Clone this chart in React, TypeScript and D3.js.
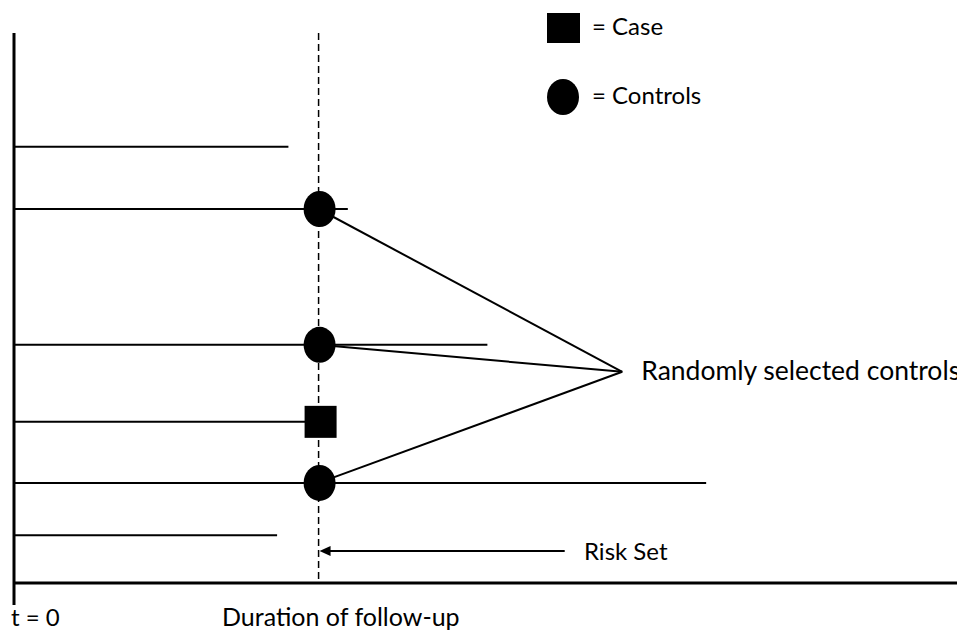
import React from 'react';
import * as d3 from 'd3';

// follow-up time units on x, subject row positions on y
const subjectRows = [7.93, 6.8, 4.33, 2.93, 1.82, 0.87];
const subjectEnds = [2.91, 3.54, 5.02, 3.23, 7.34, 2.79];
const subjectKinds = ['none', 'control', 'control', 'case', 'control', 'none'];
const eventTime = 3.23;
const labelPoint = { t: 6.45, row: 3.84 };
const riskArrow = { from: 5.84, to: 3.24, row: 0.58 };

const WIDTH = 957;
const HEIGHT = 630;
const FONT = 'Lato, "Open Sans", sans-serif';

const App: React.FC = () => {
  const x = d3.scaleLinear().domain([0, 10]).range([14, 957]);
  const y = d3.scaleLinear().domain([0, 10]).range([583, 33]);

  const axisTop = y(10);
  const axisBottom = y(0);
  const lx = x(labelPoint.t);
  const ly = y(labelPoint.row);

  const ax1 = x(riskArrow.from);
  const ax2 = x(riskArrow.to);
  const ay = y(riskArrow.row);

  return (
    <svg
      width={WIDTH}
      height={HEIGHT}
      style={{ position: 'absolute', left: 0, top: 0, background: '#fff' }}
    >
      {/* legend */}
      <rect x={547} y={13} width={33} height={30} fill="#000" />
      <text x={592} y={35} fontFamily={FONT} fontSize={24}>= Case</text>
      <ellipse cx={563} cy={97} rx={16} ry={18} fill="#000" />
      <text x={592} y={104} fontFamily={FONT} fontSize={24}>= Controls</text>

      {/* axes */}
      <line x1={x(0)} x2={x(0)} y1={axisTop} y2={axisBottom + 22} stroke="#000" strokeWidth={3} />
      <line x1={x(0)} x2={x(10)} y1={axisBottom} y2={axisBottom} stroke="#000" strokeWidth={3} />

      {/* event time */}
      <line
        x1={x(eventTime)}
        x2={x(eventTime)}
        y1={axisTop}
        y2={axisBottom}
        stroke="#000"
        strokeWidth={1.5}
        strokeDasharray="7,4"
      />

      {/* subject follow-up lines */}
      {subjectRows.map((r, i) => (
        <line
          key={'s' + i}
          x1={x(0)}
          x2={x(subjectEnds[i])}
          y1={y(r)}
          y2={y(r)}
          stroke="#000"
          strokeWidth={2}
        />
      ))}

      {/* connectors to label */}
      {subjectRows.map((r, i) =>
        subjectKinds[i] === 'control' ? (
          <line
            key={'c' + i}
            x1={x(eventTime)}
            y1={y(r)}
            x2={lx}
            y2={ly}
            stroke="#000"
            strokeWidth={2}
          />
        ) : null
      )}

      {/* markers */}
      {subjectRows.map((r, i) => {
        if (subjectKinds[i] === 'control') {
          return <ellipse key={'m' + i} cx={x(eventTime) + 1} cy={y(r)} rx={16} ry={18} fill="#000" />;
        }
        if (subjectKinds[i] === 'case') {
          return <rect key={'m' + i} x={x(eventTime) - 14} y={y(r) - 16} width={32} height={32} fill="#000" />;
        }
        return null;
      })}

      <text x={lx + 19} y={ly + 8} fontFamily={FONT} fontSize={26.5}>Randomly selected controls</text>

      {/* risk set arrow */}
      <line x1={ax1} x2={ax2 + 8} y1={ay} y2={ay} stroke="#000" strokeWidth={2} />
      <path d={`M${ax2},${ay} L${ax2 + 11},${ay - 5} L${ax2 + 11},${ay + 5} Z`} fill="#000" />
      <text x={584} y={ay + 9} fontFamily={FONT} fontSize={24}>Risk Set</text>

      {/* axis labels */}
      <text x={11} y={626} fontFamily={FONT} fontSize={24}>t = 0</text>
      <text x={222} y={626} fontFamily={FONT} fontSize={25}>Duration of follow-up</text>
    </svg>
  );
};

export default App;
